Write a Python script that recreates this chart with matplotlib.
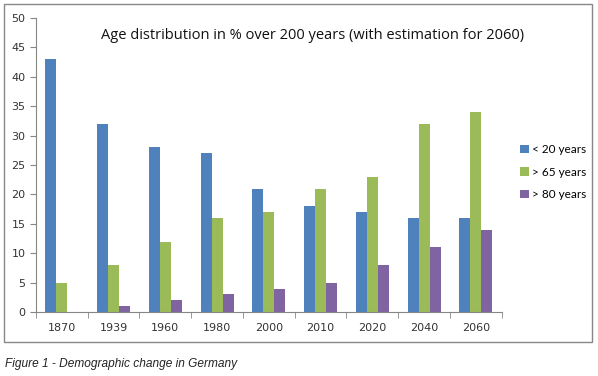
import matplotlib.pyplot as plt
import numpy as np
from matplotlib.patches import Rectangle

years = ['1870', '1939', '1960', '1980', '2000', '2010', '2020', '2040', '2060']
under_20 = [43, 32, 28, 27, 21, 18, 17, 16, 16]
over_65 = [5, 8, 12, 16, 17, 21, 23, 32, 34]
over_80 = [0, 1, 2, 3, 4, 5, 8, 11, 14]
series_names = ['< 20 years', '> 65 years', '> 80 years']
colors = ['#4F81BD', '#9BBB59', '#8064A2']

fig = plt.figure(figsize=(5.98, 3.76), dpi=100)
ax = fig.add_axes([0.060, 0.170, 0.779, 0.782])

x = np.arange(len(years))
w = 0.212
for i, (vals, name, c) in enumerate(zip([under_20, over_65, over_80], series_names, colors)):
    ax.bar(x + (i - 1) * w, vals, w, color=c, label=name)

ax.set_xlim(-0.5, len(years) - 0.5)
ax.set_ylim(0, 50)
ax.set_yticks(range(0, 51, 5))
ax.set_xticks(x)
ax.set_xticklabels(years)
ax.set_xticks(np.arange(-0.5, len(years), 1), minor=True)

for s in ['top', 'right']:
    ax.spines[s].set_visible(False)
for s in ['left', 'bottom']:
    ax.spines[s].set_color('#868686')
    ax.spines[s].set_linewidth(0.8)

ax.tick_params(axis='x', which='major', length=0, pad=8, labelsize=8, labelcolor='#333333')
ax.tick_params(axis='x', which='minor', length=4, color='#868686', direction='out')
ax.tick_params(axis='y', length=4, color='#868686', labelsize=8, labelcolor='#333333')

fig.text(0.523, 0.905, 'Age distribution in % over 200 years (with estimation for 2060)',
         ha='center', va='center', fontsize=10.5, family='Open Sans', color='#111111')

ax.legend(loc='center left', bbox_to_anchor=(1.04, 0.476), frameon=False,
          prop={'family': 'Lato', 'size': 8.5}, handlelength=0.7, handleheight=0.7,
          handletextpad=0.3, labelspacing=0.95, borderpad=0, borderaxespad=0)

fig.patches.append(Rectangle((4 / 598, 1 - 342 / 376), 588 / 598, 338 / 376,
                             transform=fig.transFigure, fill=False,
                             edgecolor='#888888', linewidth=1))

fig.text(5 / 598, 1 - 364 / 376, 'Figure 1 - Demographic change in Germany',
         ha='left', va='center', fontsize=8.6, style='italic',
         family='Liberation Sans', color='#222222')

fig.savefig('out.png', dpi=100)
